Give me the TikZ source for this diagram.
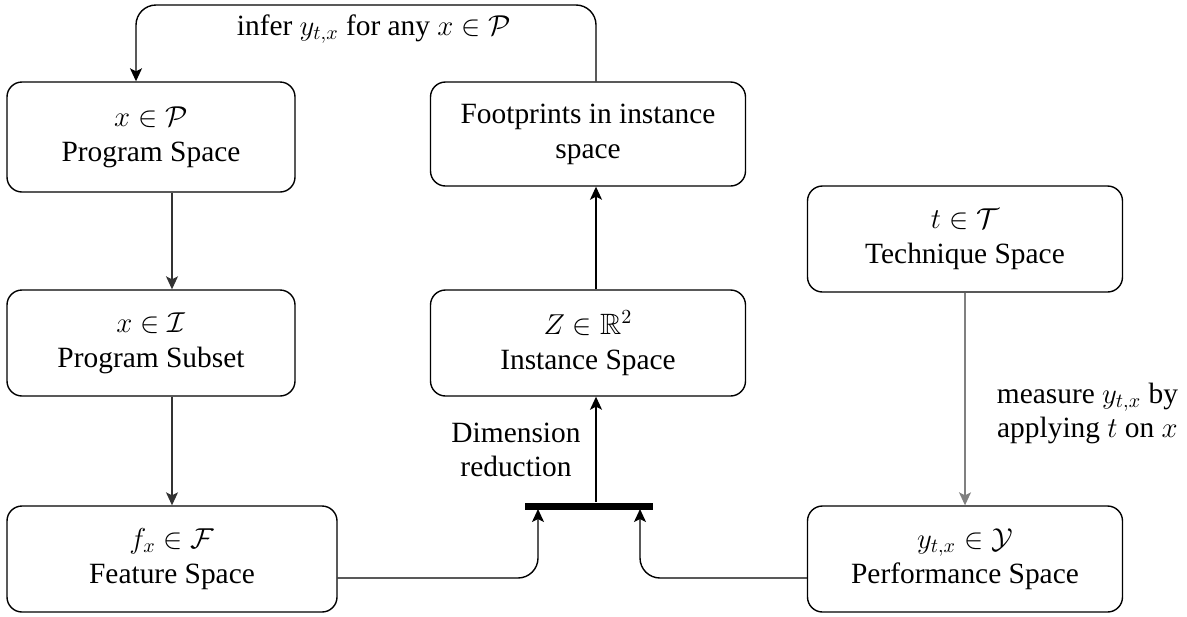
\documentclass[tikz,border=0pt]{standalone}
\usepackage{fontspec}
\usepackage{amsmath,amssymb}
\setmainfont{Liberation Serif}
\usetikzlibrary{positioning,arrows.meta}

\tikzset{
  space/.style = {draw, rounded corners=7.5pt, line width=0.7pt, align=center,
                  inner sep=0pt, minimum width=157.5pt, minimum height=53pt},
  flow/.style  = {line width=0.7pt, -{Stealth[length=6.5pt, width=6pt, inset=1.5pt]}},
  note/.style  = {align=center, font=\fontsize{14.7}{17}\selectfont}
}

\begin{document}
\begin{tikzpicture}[x=0.5pt, y=-0.5pt, font=\fontsize{14.7}{17.5}\selectfont]
		\useasboundingbox (0,0) rectangle (1187,616);
		% 左列: 程序空间
		\node[space, minimum width=144pt, minimum height=55pt] (ps) at (151,137) {$x \in \mathcal{P}$\\Program Space};
		\node[space, minimum width=144pt] (sub) at (151,343) {$x \in \mathcal{I}$\\Program Subset};
		\node[space, minimum width=165pt] (fs) at (172,559) {$f_x \in \mathcal{F}$\\Feature Space};
		% 中列: 实例空间
		\node[space, minimum height=52pt] (fp) at (588,134) {Footprints in instance\\space};
		\node[space] (is) at (588,343) {$Z \in \mathbb{R}^2$\\Instance Space};
		% 右列: 技术与性能
		\node[space] (tq) at (965,239) {$t \in \mathcal{T}$\\Technique Space};
		\node[space] (pf) at (965,559) {$y_{t,x} \in \mathcal{Y}$\\Performance Space};
		% 降维的汇合横条
		\node[fill, inner sep=0pt, minimum width=64pt, minimum height=3.5pt] (bar) at (589,506) {};
		\coordinate (inL) at (538,509);
		\coordinate (inR) at (640,509);
		\coordinate (mid) at (596,0);
		\coordinate (top) at (136,5);
		% 连线
		\draw[flow, black!80] (ps.south -| fs.north) -- (sub.north -| fs.north);
		\draw[flow, black!80] (sub.south -| fs.north) -- (fs.north);
		\draw[flow, rounded corners=10pt] ([yshift=-9.5pt]fs.east) -| (inL);
		\draw[flow, rounded corners=10pt] ([yshift=-9.5pt]pf.west) -| (inR);
		\draw[flow] (bar.north -| mid) -- (is.south -| mid);
		\draw[flow] (is.north -| mid) -- (fp.south -| mid);
		\draw[flow, gray] (tq.south) -- (pf.north);
		\draw[flow, rounded corners=10pt] (fp.north -| mid) |- (top) -- (top |- ps.north);
		% 标签
		\node[note] (infer) at (374,29) {infer $y_{t,x}$ for any $x \in \mathcal{P}$};
		\node[note] (dimred) at (516,450) {Dimension\\reduction};
		\node[note, anchor=east] (meas) at (1185,413) {measure $y_{t,x}$ by\\applying $t$ on $x$};
	\end{tikzpicture}
\end{document}
